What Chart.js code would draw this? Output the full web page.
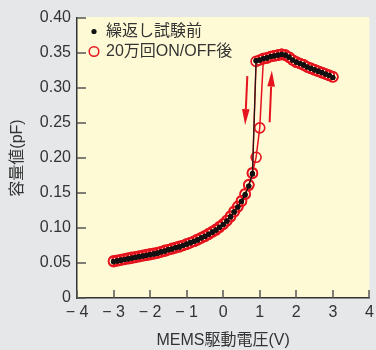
<!DOCTYPE html>
<html>
<head>
<meta charset="utf-8">
<script src="https://cdn.jsdelivr.net/npm/chart.js@4.4.1/dist/chart.umd.min.js"></script>
<style>
html,body{margin:0;padding:0;background:#E6E7E9;}
canvas{display:block;}
</style>
</head>
<body>
<canvas id="c" width="376" height="350"></canvas>
<script>
// ---- data ----
const voltsUp = [-3.0,-2.9,-2.8,-2.7,-2.6,-2.5,-2.4,-2.3,-2.2,-2.1,-2.0,-1.9,-1.8,-1.7,-1.6,-1.5,-1.4,-1.3,-1.2,-1.1,-1.0,-0.9,-0.8,-0.7,-0.6,-0.5,-0.4,-0.3,-0.2,-0.1,0.0,0.1,0.2,0.3,0.4,0.5,0.6,0.7,0.8,0.9,1.0,1.1,1.2,1.3,1.4,1.5,1.6,1.7,1.8,1.9,2.0,2.1,2.2,2.3,2.4,2.5,2.6,2.7,2.8,2.9,3.0];
const voltsDown = [3.0,2.9,2.8,2.7,2.6,2.5,2.4,2.3,2.2,2.1,2.0,1.9,1.8,1.7,1.6,1.5,1.4,1.3,1.2,1.1,1.0,0.9,0.8,0.7,0.6,0.5,0.4,0.3,0.2,0.1,0.0,-0.1,-0.2,-0.3,-0.4,-0.5,-0.6,-0.7,-0.8,-0.9,-1.0,-1.1,-1.2,-1.3,-1.4,-1.5,-1.6,-1.7,-1.8,-1.9,-2.0,-2.1,-2.2,-2.3,-2.4,-2.5,-2.6,-2.7,-2.8,-2.9,-3.0];

// 繰返し試験前 (before cycling), capacitance in pF
const beforeUp = [0.052,0.053,0.054,0.055,0.056,0.057,0.058,0.059,0.060,0.061,
  0.062,0.063,0.064,0.066,0.067,0.069,0.070,0.072,0.073,0.075,
  0.077,0.079,0.081,0.083,0.086,0.088,0.091,0.094,0.097,0.101,
  0.105,0.110,0.116,0.123,0.130,0.138,0.148,0.160,0.178,
  0.339,0.340,0.342,0.343,0.345,0.346,0.347,0.348,0.347,0.344,0.340,
  0.337,0.335,0.333,0.330,0.328,0.326,0.324,0.322,0.320,0.318,0.315];
const beforeDown = [0.315,0.318,0.320,0.322,0.324,0.326,0.328,0.330,0.333,0.335,0.337,
  0.340,0.344,0.347,0.348,0.347,0.346,0.345,0.343,0.342,0.340,0.339,
  0.177,0.160,0.147,0.138,0.130,0.123,0.116,0.110,0.105,
  0.101,0.097,0.094,0.091,0.088,0.086,0.083,0.081,0.079,0.077,
  0.075,0.073,0.072,0.070,0.069,0.067,0.066,0.064,0.063,0.062,
  0.061,0.060,0.059,0.058,0.057,0.056,0.055,0.054,0.053,0.052];

// 20万回ON/OFF後 (after 200k cycles)
const afterUp = [0.053,0.054,0.055,0.056,0.057,0.058,0.059,0.060,0.061,0.062,
  0.063,0.064,0.065,0.066,0.068,0.069,0.071,0.072,0.074,0.075,
  0.077,0.079,0.081,0.084,0.086,0.089,0.092,0.095,0.098,0.102,
  0.106,0.111,0.117,0.124,0.131,0.139,0.149,0.162,0.179,
  0.201,0.243,
  0.342,0.343,0.345,0.346,0.347,0.348,0.347,0.344,0.340,
  0.337,0.335,0.333,0.330,0.328,0.326,0.324,0.322,0.320,0.318,0.316];
const afterDown = [0.316,0.318,0.320,0.322,0.324,0.326,0.328,0.330,0.333,0.335,0.337,
  0.340,0.344,0.347,0.348,0.347,0.346,0.345,0.343,0.342,0.340,0.338,
  0.178,0.161,0.148,0.138,0.130,0.123,0.116,0.110,0.105,
  0.101,0.097,0.094,0.091,0.088,0.086,0.083,0.081,0.079,0.077,
  0.075,0.073,0.072,0.070,0.069,0.067,0.066,0.064,0.063,0.062,
  0.061,0.060,0.059,0.058,0.057,0.056,0.055,0.054,0.053,0.052];

const seriesLabels = ['繰返し試験前', '20万回ON/OFF後'];
const xTickLabels = ['− 4','− 3','− 2','− 1','0','1','2','3','4'];
const yTickLabels = ['0','0.05','0.10','0.15','0.20','0.25','0.30','0.35','0.40'];
const xTitle = 'MEMS駆動電圧(V)';
const yTitle = '容量値(pF)';
// hysteresis arrows [xFrom, yFrom, xTo, yTo] in data units
const arrowDown = [0.66, 0.317, 0.60, 0.247];
const arrowUp = [1.27, 0.251, 1.33, 0.325];

// ---- build ----
const RED = '#E5141E';
const TXT = '#333333';
const FONT = "'Liberation Sans', 'Noto Sans CJK JP', sans-serif";
function pts(xs, ys){ return ys.map((v,i)=>({x:xs[i], y:v})); }
const beforeData = pts(voltsUp, beforeUp).concat(pts(voltsDown, beforeDown));
const afterData = pts(voltsUp, afterUp).concat(pts(voltsDown, afterDown));

const bgPlugin = {
  id:'bg',
  beforeDraw(chart){
    const {ctx, chartArea:a, width, height} = chart;
    ctx.save();
    ctx.fillStyle = '#E6E7E9';
    ctx.fillRect(0,0,width,height);
    ctx.fillStyle = '#FFFAD6';
    ctx.fillRect(a.left, a.top - 1, a.right - a.left, a.bottom - a.top + 1);
    ctx.restore();
  },
  beforeDatasetsDraw(chart){
    const {ctx, chartArea:a, scales} = chart;
    ctx.save();
    ctx.strokeStyle = '#555';
    ctx.lineWidth = 1.5;
    scales.y.ticks.forEach(t=>{
      const y = Math.round(scales.y.getPixelForValue(t.value));
      ctx.beginPath(); ctx.moveTo(a.left, y); ctx.lineTo(a.left + 9, y); ctx.stroke();
    });
    scales.x.ticks.forEach(t=>{
      const x = Math.round(scales.x.getPixelForValue(t.value));
      ctx.beginPath(); ctx.moveTo(x, a.bottom); ctx.lineTo(x, a.bottom - 8); ctx.stroke();
    });
    ctx.restore();
  },
  afterDatasetsDraw(chart){
    const {ctx, chartArea:a, scales} = chart;
    ctx.save();
    // arrows
    [arrowDown, arrowUp].forEach(ar=>{
      const x1 = scales.x.getPixelForValue(ar[0]), y1 = scales.y.getPixelForValue(ar[1]);
      const x2 = scales.x.getPixelForValue(ar[2]), y2 = scales.y.getPixelForValue(ar[3]);
      const ang = Math.atan2(y2-y1, x2-x1);
      const hl = 16, hw = 3.8;
      const bx = x2 - hl*Math.cos(ang), by = y2 - hl*Math.sin(ang);
      ctx.strokeStyle = RED; ctx.fillStyle = RED; ctx.lineWidth = 2;
      ctx.beginPath(); ctx.moveTo(x1,y1); ctx.lineTo(bx,by); ctx.stroke();
      ctx.beginPath();
      ctx.moveTo(x2,y2);
      ctx.lineTo(bx + hw*Math.sin(ang), by - hw*Math.cos(ang));
      ctx.lineTo(bx - hw*Math.sin(ang), by + hw*Math.cos(ang));
      ctx.closePath(); ctx.fill();
    });
    // legend
    const mx = a.left + 17;
    const rows = [a.top + 13.5, a.top + 33.5];
    ctx.fillStyle = '#111';
    ctx.beginPath(); ctx.arc(mx, rows[0], 2.6, 0, Math.PI*2); ctx.fill();
    ctx.strokeStyle = RED; ctx.lineWidth = 1.5;
    ctx.beginPath(); ctx.arc(mx, rows[1], 4.8, 0, Math.PI*2); ctx.stroke();
    ctx.fillStyle = TXT;
    ctx.font = "16px " + FONT;
    ctx.textBaseline = 'middle';
    ctx.textAlign = 'left';
    ctx.fillText(seriesLabels[0], a.left + 29, rows[0]);
    ctx.fillText(seriesLabels[1], a.left + 29, rows[1]);
    ctx.restore();
  }
};

new Chart(document.getElementById('c'), {
  type:'scatter',
  data:{
    datasets:[
      {label:seriesLabels[0], data:beforeData, showLine:true, borderColor:'#1a1a1a', borderWidth:1.2,
       pointRadius:2.6, pointHoverRadius:2.6, pointBackgroundColor:'#111', pointBorderWidth:0, pointBorderColor:'#111'},
      {label:seriesLabels[1], data:afterData, showLine:true, borderColor:RED, borderWidth:1.5,
       pointRadius:5, pointHoverRadius:5, pointBackgroundColor:'rgba(0,0,0,0)', pointBorderColor:RED, pointBorderWidth:1.6}
    ]
  },
  options:{
    responsive:false, animation:false, devicePixelRatio:1,
    layout:{padding:{left:0, right:3, top:18, bottom:0}},
    plugins:{legend:{display:false}, tooltip:{enabled:false}},
    scales:{
      x:{type:'linear', min:-4, max:4,
         ticks:{stepSize:1, color:TXT, padding:5, maxRotation:0, autoSkip:false,
                font:{family:FONT, size:16}, callback:(v,i)=>xTickLabels[i]},
         grid:{display:false, drawTicks:false},
         border:{display:true, color:'#333', width:1.5},
         title:{display:true, text:xTitle, color:TXT, font:{family:FONT, size:16}, padding:{top:0, bottom:0}},
         afterFit:s=>{ s.height = 52; s.paddingLeft = 0; s.paddingRight = 0; }
      },
      y:{type:'linear', min:0, max:0.4,
         ticks:{stepSize:0.05, color:TXT, padding:6, autoSkip:false,
                font:{family:FONT, size:16}, callback:(v,i)=>yTickLabels[i]},
         grid:{display:false, drawTicks:false},
         border:{display:true, color:'#333', width:1.5},
         title:{display:true, text:yTitle, color:TXT, font:{family:FONT, size:16}, padding:{top:8, bottom:0}},
         afterFit:s=>{ s.width = 77; s.paddingTop = 0; s.paddingBottom = 0; }
      }
    }
  },
  plugins:[bgPlugin]
});
</script>
</body>
</html>
